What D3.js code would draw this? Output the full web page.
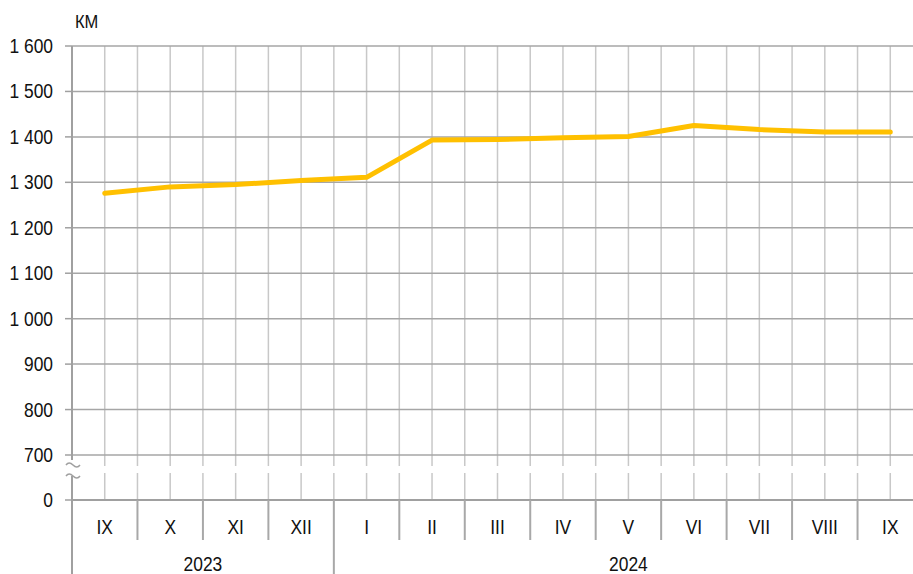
<html>
<head>
<meta charset="utf-8">
<script src="https://d3js.org/d3.v7.min.js"></script>
<style>
  body { margin: 0; background: #fff; }
  svg text { font-family: "Liberation Sans", Arial, sans-serif; fill: #111; }
</style>
</head>
<body>
<svg id="chart" width="913" height="574"></svg>
<script>
// data
const months = ['IX','X','XI','XII','I','II','III','IV','V','VI','VII','VIII','IX'];
const years = ['2023','2023','2023','2023','2024','2024','2024','2024','2024','2024','2024','2024','2024'];
const values = [1276, 1290, 1295, 1304, 1311, 1393, 1394, 1398, 1401, 1425, 1416, 1411, 1411];
const yTicks = [700, 800, 900, 1000, 1100, 1200, 1300, 1400, 1500, 1600];
const unitLabel = 'КМ';

const svg = d3.select('#chart');
const plotLeft = 72, plotRight = 923, plotTop = 46, y700 = 455, yZero = 500;
const squeeze = 0.87; // the labels in the original are a narrow face

let x = d3.scaleBand()
    .domain(d3.range(months.length))
    .range([plotLeft, plotRight])
    .padding(0);
let y = d3.scaleLinear().domain([700, 1600]).range([y700, plotTop]);

let fmt = v => d3.format(',')(v).replace(/,/g, ' ');

// narrow text: position with transform, squeeze horizontally
function narrow(sel, fx, fy) {
    sel.attr('transform', (d, i) => `translate(${fx(d, i)},${fy(d, i)}) scale(${squeeze},1)`);
}

// vertical grid: category centres and boundaries
let vLines = [];
d3.range(months.length).forEach(i => {
    vLines.push(x(i));
    vLines.push(x(i) + x.bandwidth() / 2);
});
svg.append('g').selectAll('line').data(vLines.filter(d => d > plotLeft)).enter()
    .append('line')
    .attr('x1', d => d).attr('x2', d => d)
    .attr('y1', plotTop).attr('y2', yZero)
    .attr('stroke', '#c8c8c8').attr('stroke-width', 1.5);

// horizontal grid
svg.append('g').selectAll('line').data(yTicks).enter()
    .append('line')
    .attr('x1', plotLeft).attr('x2', 913)
    .attr('y1', d => y(d)).attr('y2', d => y(d))
    .attr('stroke', '#a6a6a6').attr('stroke-width', 1.5);

// axis break band
svg.append('rect')
    .attr('x', plotLeft - 2).attr('y', 466).attr('width', 913 - plotLeft).attr('height', 7)
    .attr('fill', '#fff');

// y axis line
svg.append('line').attr('x1', plotLeft).attr('x2', plotLeft).attr('y1', plotTop).attr('y2', 460)
    .attr('stroke', '#a0a0a0').attr('stroke-width', 2);
svg.append('line').attr('x1', plotLeft).attr('x2', plotLeft).attr('y1', 476).attr('y2', 574)
    .attr('stroke', '#a0a0a0').attr('stroke-width', 2);

// break marks
[464, 475].forEach(cy => {
    svg.append('path')
        .attr('d', `M66,${cy + 1} q3,-4 7,0 t7,0`)
        .attr('fill', 'none').attr('stroke', '#a0a0a0').attr('stroke-width', 1.5);
});

// y ticks and labels
let yPos = v => v === 0 ? yZero : y(v);
let allTicks = [0].concat(yTicks);
svg.append('g').selectAll('line').data(allTicks).enter()
    .append('line')
    .attr('x1', plotLeft - 7).attr('x2', plotLeft)
    .attr('y1', d => yPos(d)).attr('y2', d => yPos(d))
    .attr('stroke', '#a0a0a0').attr('stroke-width', 1.5);
svg.append('g').selectAll('text').data(allTicks).enter()
    .append('text')
    .attr('text-anchor', 'end')
    .attr('font-size', 20)
    .text(d => fmt(d))
    .call(narrow, d => 53, d => yPos(d) + 7);

svg.append('text').attr('font-size', 19).text(unitLabel)
    .call(narrow, () => 75, () => 28);

// x axis line
svg.append('line').attr('x1', plotLeft).attr('x2', 913).attr('y1', yZero).attr('y2', yZero)
    .attr('stroke', '#a0a0a0').attr('stroke-width', 2);

// category separators
d3.range(1, months.length + 1).forEach(i => {
    let xx = i < months.length ? x(i) : plotRight;
    let yearBreak = i < months.length && years[i] !== years[i - 1];
    svg.append('line').attr('x1', xx).attr('x2', xx)
        .attr('y1', yZero).attr('y2', yearBreak ? 574 : 540)
        .attr('stroke', '#a8a8a8').attr('stroke-width', 2);
});

svg.append('g').selectAll('text').data(months).enter()
    .append('text')
    .attr('text-anchor', 'middle')
    .attr('font-size', 20)
    .text(d => d)
    .call(narrow, (d, i) => x(i) + x.bandwidth() / 2, () => 534);

// year labels
let yearGroups = d3.groups(d3.range(months.length), i => years[i]);
svg.append('g').selectAll('text').data(yearGroups).enter()
    .append('text')
    .attr('text-anchor', 'middle')
    .attr('font-size', 20)
    .text(d => d[0])
    .call(narrow, d => (x(d[1][0]) + x(d[1][d[1].length - 1]) + x.bandwidth()) / 2, () => 571);

// series line
let line = d3.line()
    .x((d, i) => x(i) + x.bandwidth() / 2)
    .y(d => y(d));
svg.append('path')
    .datum(values)
    .attr('d', line)
    .attr('fill', 'none')
    .attr('stroke', '#ffc000')
    .attr('stroke-width', 5)
    .attr('stroke-linejoin', 'round')
    .attr('stroke-linecap', 'round');
</script>
</body>
</html>
